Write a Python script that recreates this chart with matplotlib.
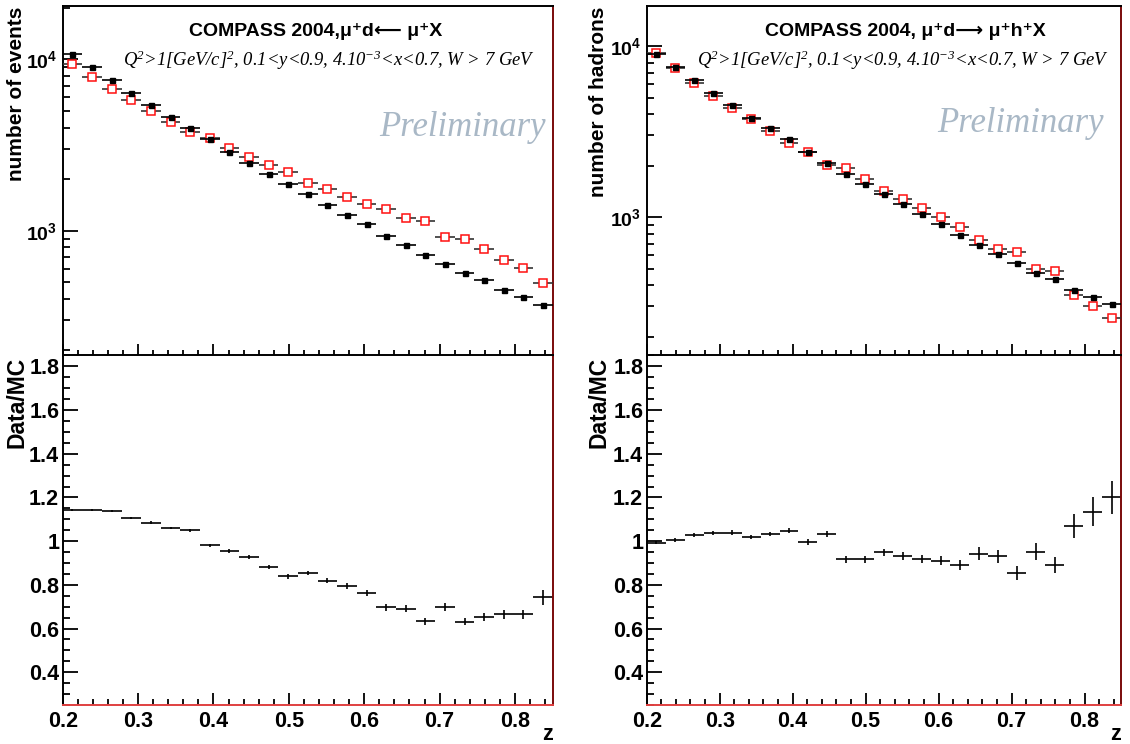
import numpy as np
import matplotlib
matplotlib.use("Agg")
import matplotlib.pyplot as plt
from matplotlib.ticker import FixedLocator, MultipleLocator, LogLocator, NullFormatter, FuncFormatter, LogFormatterMathtext

plt.rcParams['font.family'] = ['Liberation Sans', 'DejaVu Sans']
plt.rcParams['mathtext.fontset'] = 'custom'
plt.rcParams['mathtext.rm'] = 'Liberation Serif:italic'
plt.rcParams['mathtext.it'] = 'Liberation Serif:italic'
plt.rcParams['mathtext.bf'] = 'Liberation Sans:bold'

# ---------------- data ----------------
z_centers = [0.213, 0.239, 0.265, 0.291, 0.317, 0.343, 0.369, 0.395, 0.421, 0.447,
             0.473, 0.499, 0.525, 0.551, 0.577, 0.603, 0.629, 0.655, 0.681, 0.707,
             0.733, 0.759, 0.785, 0.811, 0.837]
z_halfwidth = 0.013

# left: mu+ d -> mu+ X  (events)
events_data = [10740, 9060, 7590, 6365, 5410, 4600, 3965, 3445, 2864, 2488,
               2135, 1865, 1628, 1422, 1242, 1094, 934, 828, 723, 640,
               566, 513, 448, 409, 371]
events_mc = [9390, 7870, 6670, 5770, 4970, 4315, 3755, 3490, 3034, 2697,
             2420, 2213, 1898, 1741, 1563, 1436, 1335, 1191, 1139, 914,
             890, 787, 672, 608, 494]
events_ratio = [1.144, 1.143, 1.137, 1.105, 1.085, 1.060, 1.051, 0.981, 0.954, 0.926,
                0.882, 0.839, 0.854, 0.819, 0.795, 0.763, 0.697, 0.691, 0.633, 0.697,
                0.632, 0.652, 0.665, 0.665, 0.743]
events_ratio_err = [0.004, 0.004, 0.005, 0.005, 0.006, 0.006, 0.007, 0.008, 0.008, 0.009,
                    0.010, 0.010, 0.011, 0.012, 0.013, 0.014, 0.015, 0.016, 0.016, 0.018,
                    0.018, 0.019, 0.021, 0.022, 0.034]

# right: mu+ d -> mu+ h+ X  (hadrons)
hadrons_data = [9020, 7500, 6310, 5290, 4520, 3805, 3294, 2852, 2400, 2079,
                1783, 1557, 1360, 1197, 1046, 914, 787, 688, 608, 538,
                473, 434, 374, 340, 309]
hadrons_mc = [9060, 7430, 6110, 5080, 4317, 3738, 3180, 2700, 2400, 2013,
              1943, 1680, 1428, 1276, 1135, 1000, 878, 733, 652, 625,
              497, 483, 351, 300, 258]
hadrons_ratio = [0.993, 1.006, 1.027, 1.039, 1.039, 1.018, 1.033, 1.048, 0.997, 1.033,
                 0.917, 0.917, 0.949, 0.933, 0.917, 0.911, 0.890, 0.942, 0.930, 0.853,
                 0.952, 0.890, 1.070, 1.135, 1.200]
hadrons_ratio_err = [0.008, 0.008, 0.009, 0.009, 0.010, 0.010, 0.011, 0.012, 0.013, 0.014,
                     0.015, 0.016, 0.017, 0.018, 0.019, 0.020, 0.023, 0.030, 0.030, 0.032,
                     0.040, 0.036, 0.055, 0.065, 0.075]

titles = ["COMPASS 2004,\u03bc\u207ad\u27f5 \u03bc\u207aX",
          "COMPASS 2004, \u03bc\u207ad\u27f6 \u03bc\u207ah\u207aX"]
subtitle = "Q$^{2}$>1[GeV/c]$^{2}$, 0.1<y<0.9, 4.10$^{-3}$<x<0.7, W > 7 GeV"
ylabels_top = ["number of events", "number of hadrons"]
ylabel_bottom = "Data/MC"
xlabel = "z"
watermark = "Preliminary"

# ---------------- figure ----------------
W, H = 1130, 744
fig = plt.figure(figsize=(W / 100, H / 100), dpi=100)

def fx(px):
    return px / W

def fy(py):
    return 1 - py / H

panels = [
    dict(x0=62.7, x1=552.7, ylim=(187, 20470), data=events_data, mc=events_mc,
         ratio=events_ratio, rerr=events_ratio_err, title=titles[0], ylab=ylabels_top[0],
         tpos=(0.517, 0.928), spos=(0.543, 0.845), ppos=(0.815, 0.651), labx=17),
    dict(x0=646.7, x1=1121, ylim=(155, 17140), data=hadrons_data, mc=hadrons_mc,
         ratio=hadrons_ratio, rerr=hadrons_ratio_err, title=titles[1], ylab=ylabels_top[1],
         tpos=(0.545, 0.928), spos=(0.540, 0.845), ppos=(0.789, 0.665), labx=599),
]

top_y0, split_y, bot_y1 = 6, 355.5, 705
dark_red = '#7a0a0a'
light_red = '#e04040'
tick_font = dict(family='Liberation Sans', weight='bold', size=15.5)
log_tick_font = dict(family='Liberation Sans', weight='bold', size=14)

def style_axes(ax, bottom_color):
    for s in ['left', 'top']:
        ax.spines[s].set_color('black')
        ax.spines[s].set_linewidth(1.4)
    ax.spines['right'].set_color(dark_red)
    ax.spines['right'].set_linewidth(1.4)
    ax.spines['bottom'].set_color(bottom_color)
    ax.spines['bottom'].set_linewidth(1.4)
    ax.tick_params(which='both', direction='in', top=False, right=False, width=1.3, color='black')
    ax.tick_params(axis='x', which='major', length=9)
    ax.tick_params(axis='x', which='minor', length=4.5)
    ax.tick_params(axis='y', which='major', length=10.5)
    ax.tick_params(axis='y', which='minor', length=5)

for p in panels:
    axt = fig.add_axes([fx(p['x0']), fy(split_y), fx(p['x1'] - p['x0']), (split_y - top_y0) / H])
    axb = fig.add_axes([fx(p['x0']), fy(bot_y1), fx(p['x1'] - p['x0']), (bot_y1 - split_y) / H])

    # --- top panel ---
    axt.set_yscale('log')
    axt.set_xlim(0.2, 0.85)
    axt.set_ylim(*p['ylim'])
    axt.errorbar(z_centers, p['mc'], xerr=z_halfwidth, fmt='s', ms=5.2, mfc='white',
                 mec='#ff1010', mew=1.1, ecolor='#333333', elinewidth=1.2, capsize=0, zorder=3)
    axt.errorbar(z_centers, p['data'], xerr=z_halfwidth, fmt='s', ms=3.6, mfc='black',
                 mec='black', ecolor='black', elinewidth=1.2, capsize=0, zorder=4)
    style_axes(axt, 'black')
    axt.xaxis.set_major_locator(MultipleLocator(0.1))
    axt.xaxis.set_minor_locator(MultipleLocator(0.02))
    axt.xaxis.set_major_formatter(NullFormatter())
    axt.yaxis.set_major_locator(LogLocator(base=10, numticks=10))
    axt.yaxis.set_minor_locator(LogLocator(base=10, subs=np.arange(2, 10), numticks=20))
    axt.yaxis.set_major_formatter(LogFormatterMathtext())
    axt.yaxis.set_minor_formatter(NullFormatter())
    axt.tick_params(axis='y', which='major', pad=4)
    for lab in axt.get_yticklabels():
        lab.set_fontproperties(matplotlib.font_manager.FontProperties(**log_tick_font))

    axt.text(p['tpos'][0], p['tpos'][1], p['title'], transform=axt.transAxes,
             ha='center', va='center', fontsize=14, fontweight='bold',
             family=['Liberation Sans', 'DejaVu Sans'])
    axt.text(p['spos'][0], p['spos'][1], subtitle, transform=axt.transAxes,
             ha='center', va='center', fontsize=13.4, style='italic', family='Liberation Serif')
    axt.text(p['ppos'][0], p['ppos'][1], watermark, transform=axt.transAxes,
             ha='center', va='center', fontsize=25, style='italic', family='Liberation Serif',
             color='#a9b8c6')
    fig.text(fx(p['labx']), fy(7), p['ylab'], rotation=90, ha='center', va='top',
             fontsize=15, fontweight='bold', family='Liberation Sans')

    # --- bottom panel ---
    axb.set_xlim(0.2, 0.85)
    axb.set_ylim(0.25, 1.85)
    axb.errorbar(z_centers, p['ratio'], xerr=z_halfwidth, yerr=p['rerr'], fmt='none',
                 ecolor='black', elinewidth=1.2, capsize=0)
    style_axes(axb, light_red)
    axb.xaxis.set_major_locator(FixedLocator([0.2, 0.3, 0.4, 0.5, 0.6, 0.7, 0.8]))
    axb.xaxis.set_minor_locator(MultipleLocator(0.02))
    axb.yaxis.set_major_locator(FixedLocator([0.4, 0.6, 0.8, 1.0, 1.2, 1.4, 1.6, 1.8]))
    axb.yaxis.set_minor_locator(MultipleLocator(0.05))
    axb.xaxis.set_major_formatter(FuncFormatter(lambda v, pos: '%g' % round(v, 2)))
    axb.yaxis.set_major_formatter(FuncFormatter(lambda v, pos: '%g' % round(v, 2)))
    axb.tick_params(axis='x', which='major', pad=4, length=9)
    axb.tick_params(axis='y', which='major', pad=2.5)
    for lab in axb.get_xticklabels() + axb.get_yticklabels():
        lab.set_fontproperties(matplotlib.font_manager.FontProperties(**tick_font))
    fig.text(fx(p['labx']), fy(357), ylabel_bottom, rotation=90, ha='center', va='top',
             fontsize=16.5, fontweight='bold', family='Liberation Sans')
    fig.text(fx(p['x1']), fy(735), xlabel, ha='right', va='center',
             fontsize=15.5, fontweight='bold', family='Liberation Sans')

fig.savefig('out.png', dpi=100)
